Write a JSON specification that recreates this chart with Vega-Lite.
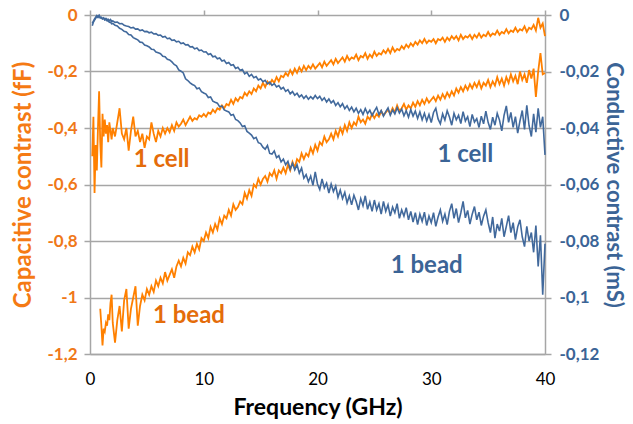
{
"$schema":"https://vega.github.io/schema/vega-lite/v6.json",
"width":455,"height":339,
"autosize":{"type":"none"},
"padding":{"left":90,"top":15,"right":88,"bottom":70},
"background":"white",
"config":{"view":{"stroke":null},"font":"Lato"},
"data":{"values":[
{"f":0.2,"c":-0.50,"b":null,"g":-0.0038,"h":-0.0030},
{"f":0.3,"c":-0.36,"b":null,"g":-0.0025,"h":-0.0022},
{"f":0.4,"c":-0.63,"b":null,"g":-0.0018,"h":-0.0014},
{"f":0.5,"c":-0.46,"b":null,"g":-0.0012,"h":-0.0008},
{"f":0.6,"c":-0.55,"b":null,"g":-0.0005,"h":-0.0002},
{"f":0.7,"c":-0.40,"b":null,"g":-0.0009,"h":-0.0006},
{"f":0.8,"c":-0.27,"b":null,"g":-0.0003,"h":-0.0001},
{"f":0.9,"c":-0.45,"b":-1.04,"g":-0.0010,"h":-0.0009},
{"f":1.0,"c":-0.54,"b":-1.10,"g":-0.0008,"h":-0.0010},
{"f":1.1,"c":-0.35,"b":-1.17,"g":-0.0013,"h":-0.0014},
{"f":1.2,"c":-0.43,"b":-1.11,"g":-0.0010,"h":-0.0012},
{"f":1.3,"c":-0.37,"b":-1.12,"g":-0.0016,"h":-0.0018},
{"f":1.4,"c":-0.42,"b":-1.09,"g":-0.0012,"h":-0.0016},
{"f":1.5,"c":-0.39,"b":-1.10,"g":-0.0017,"h":-0.0021},
{"f":1.6,"c":-0.45,"b":-1.06,"g":-0.0015,"h":-0.0020},
{"f":1.7,"c":-0.38,"b":-1.08,"g":-0.0020,"h":-0.0026},
{"f":1.8,"c":-0.41,"b":-1.02,"g":-0.0016,"h":-0.0025},
{"f":1.9,"c":-0.44,"b":-0.99,"g":-0.0022,"h":-0.0031},
{"f":2.0,"c":-0.40,"b":-1.09,"g":-0.0021,"h":-0.0030},
{"f":2.2,"c":-0.43,"b":-1.16,"g":-0.0026,"h":-0.0036},
{"f":2.4,"c":-0.38,"b":-1.08,"g":-0.0025,"h":-0.0039},
{"f":2.6,"c":-0.33,"b":-1.03,"g":-0.0031,"h":-0.0047},
{"f":2.8,"c":-0.42,"b":-1.12,"g":-0.0030,"h":-0.0051},
{"f":3.0,"c":-0.44,"b":-1.01,"g":-0.0036,"h":-0.0058},
{"f":3.2,"c":-0.40,"b":-0.97,"g":-0.0039,"h":-0.0060},
{"f":3.4,"c":-0.48,"b":-1.11,"g":-0.0041,"h":-0.0069},
{"f":3.6,"c":-0.41,"b":-1.04,"g":-0.0046,"h":-0.0071},
{"f":3.8,"c":-0.36,"b":-1.00,"g":-0.0044,"h":-0.0080},
{"f":4.0,"c":-0.43,"b":-0.96,"g":-0.0050,"h":-0.0084},
{"f":4.2,"c":-0.41,"b":-1.10,"g":-0.0049,"h":-0.0088},
{"f":4.4,"c":-0.45,"b":-1.03,"g":-0.0055,"h":-0.0096},
{"f":4.6,"c":-0.42,"b":-0.99,"g":-0.0053,"h":-0.0097},
{"f":4.8,"c":-0.47,"b":-1.01,"g":-0.0059,"h":-0.0106},
{"f":5.0,"c":-0.43,"b":-0.97,"g":-0.0058,"h":-0.0109},
{"f":5.2,"c":-0.44,"b":-0.99,"g":-0.0063,"h":-0.0113},
{"f":5.4,"c":-0.38,"b":-0.96,"g":-0.0061,"h":-0.0121},
{"f":5.6,"c":-0.42,"b":-0.98,"g":-0.0067,"h":-0.0122},
{"f":5.8,"c":-0.45,"b":-0.94,"g":-0.0066,"h":-0.0131},
{"f":6.0,"c":-0.41,"b":-0.96,"g":-0.0072,"h":-0.0134},
{"f":6.2,"c":-0.43,"b":-0.93,"g":-0.0071,"h":-0.0137},
{"f":6.4,"c":-0.40,"b":-0.95,"g":-0.0078,"h":-0.0146},
{"f":6.6,"c":-0.42,"b":-0.91,"g":-0.0076,"h":-0.0148},
{"f":6.8,"c":-0.40,"b":-0.94,"g":-0.0084,"h":-0.0157},
{"f":7.0,"c":-0.415,"b":-0.92,"g":-0.0082,"h":-0.0159},
{"f":7.2,"c":-0.39,"b":-0.90,"g":-0.0090,"h":-0.0166},
{"f":7.4,"c":-0.41,"b":-0.93,"g":-0.0088,"h":-0.0175},
{"f":7.6,"c":-0.38,"b":-0.89,"g":-0.0095,"h":-0.0180},
{"f":7.8,"c":-0.395,"b":-0.87,"g":-0.0093,"h":-0.0194},
{"f":8.0,"c":-0.385,"b":-0.89,"g":-0.0101,"h":-0.0199},
{"f":8.2,"c":-0.37,"b":-0.86,"g":-0.0099,"h":-0.0205},
{"f":8.4,"c":-0.39,"b":-0.88,"g":-0.0106,"h":-0.0226},
{"f":8.6,"c":-0.375,"b":-0.84,"g":-0.0105,"h":-0.0232},
{"f":8.8,"c":-0.36,"b":-0.85,"g":-0.0113,"h":-0.0240},
{"f":9.0,"c":-0.375,"b":-0.82,"g":-0.0112,"h":-0.0246},
{"f":9.2,"c":-0.365,"b":-0.84,"g":-0.0120,"h":-0.0250},
{"f":9.4,"c":-0.37,"b":-0.81,"g":-0.0117,"h":-0.0261},
{"f":9.6,"c":-0.355,"b":-0.83,"g":-0.0126,"h":-0.0258},
{"f":9.8,"c":-0.36,"b":-0.79,"g":-0.0124,"h":-0.0271},
{"f":10.0,"c":-0.35,"b":-0.80,"g":-0.0131,"h":-0.0276},
{"f":10.2,"c":-0.36,"b":-0.77,"g":-0.0130,"h":-0.0280},
{"f":10.4,"c":-0.345,"b":-0.79,"g":-0.0140,"h":-0.0292},
{"f":10.6,"c":-0.35,"b":-0.75,"g":-0.0137,"h":-0.0290},
{"f":10.8,"c":-0.335,"b":-0.77,"g":-0.0148,"h":-0.0305},
{"f":11.0,"c":-0.345,"b":-0.74,"g":-0.0146,"h":-0.0309},
{"f":11.2,"c":-0.33,"b":-0.76,"g":-0.0155,"h":-0.0312},
{"f":11.4,"c":-0.335,"b":-0.72,"g":-0.0152,"h":-0.0325},
{"f":11.6,"c":-0.32,"b":-0.74,"g":-0.0163,"h":-0.0322},
{"f":11.8,"c":-0.33,"b":-0.71,"g":-0.0160,"h":-0.0336},
{"f":12.0,"c":-0.315,"b":-0.72,"g":-0.0172,"h":-0.0340},
{"f":12.2,"c":-0.32,"b":-0.69,"g":-0.0168,"h":-0.0343},
{"f":12.4,"c":-0.30,"b":-0.71,"g":-0.0178,"h":-0.0355},
{"f":12.6,"c":-0.315,"b":-0.67,"g":-0.0176,"h":-0.0352},
{"f":12.8,"c":-0.295,"b":-0.69,"g":-0.0189,"h":-0.0370},
{"f":13.0,"c":-0.305,"b":-0.68,"g":-0.0185,"h":-0.0374},
{"f":13.2,"c":-0.29,"b":-0.66,"g":-0.0196,"h":-0.0382},
{"f":13.4,"c":-0.295,"b":-0.67,"g":-0.0193,"h":-0.0395},
{"f":13.6,"c":-0.275,"b":-0.63,"g":-0.0208,"h":-0.0392},
{"f":13.8,"c":-0.285,"b":-0.65,"g":-0.0203,"h":-0.0412},
{"f":14.0,"c":-0.27,"b":-0.62,"g":-0.0217,"h":-0.0418},
{"f":14.2,"c":-0.28,"b":-0.64,"g":-0.0210,"h":-0.0425},
{"f":14.4,"c":-0.26,"b":-0.60,"g":-0.0222,"h":-0.0438},
{"f":14.6,"c":-0.27,"b":-0.61,"g":-0.0218,"h":-0.0433},
{"f":14.8,"c":-0.25,"b":-0.58,"g":-0.0230,"h":-0.0452},
{"f":15.0,"c":-0.26,"b":-0.60,"g":-0.0226,"h":-0.0455},
{"f":15.2,"c":-0.24,"b":-0.58,"g":-0.0236,"h":-0.0468},
{"f":15.4,"c":-0.255,"b":-0.57,"g":-0.0231,"h":-0.0475},
{"f":15.6,"c":-0.235,"b":-0.59,"g":-0.0244,"h":-0.0462},
{"f":15.8,"c":-0.245,"b":-0.56,"g":-0.0238,"h":-0.0490},
{"f":16.0,"c":-0.23,"b":-0.57,"g":-0.0249,"h":-0.0492},
{"f":16.2,"c":-0.24,"b":-0.55,"g":-0.0243,"h":-0.0481},
{"f":16.4,"c":-0.22,"b":-0.58,"g":-0.0255,"h":-0.0505},
{"f":16.6,"c":-0.235,"b":-0.55,"g":-0.0250,"h":-0.0498},
{"f":16.8,"c":-0.215,"b":-0.56,"g":-0.0262,"h":-0.0520},
{"f":17.0,"c":-0.22,"b":-0.54,"g":-0.0256,"h":-0.0510},
{"f":17.2,"c":-0.205,"b":-0.56,"g":-0.0270,"h":-0.0530},
{"f":17.4,"c":-0.215,"b":-0.53,"g":-0.0264,"h":-0.0518},
{"f":17.6,"c":-0.195,"b":-0.55,"g":-0.0279,"h":-0.0545},
{"f":17.8,"c":-0.21,"b":-0.52,"g":-0.0271,"h":-0.0525},
{"f":18.0,"c":-0.19,"b":-0.54,"g":-0.0284,"h":-0.0548},
{"f":18.2,"c":-0.205,"b":-0.51,"g":-0.0277,"h":-0.0530},
{"f":18.4,"c":-0.185,"b":-0.52,"g":-0.0290,"h":-0.0560},
{"f":18.6,"c":-0.20,"b":-0.49,"g":-0.0283,"h":-0.0542},
{"f":18.8,"c":-0.18,"b":-0.51,"g":-0.0295,"h":-0.0578},
{"f":19.0,"c":-0.195,"b":-0.49,"g":-0.0286,"h":-0.0565},
{"f":19.2,"c":-0.18,"b":-0.50,"g":-0.0298,"h":-0.0590},
{"f":19.4,"c":-0.19,"b":-0.47,"g":-0.0289,"h":-0.0570},
{"f":19.6,"c":-0.175,"b":-0.49,"g":-0.0297,"h":-0.0603},
{"f":19.8,"c":-0.19,"b":-0.46,"g":-0.0285,"h":-0.0555},
{"f":20.0,"c":-0.18,"b":-0.48,"g":-0.0296,"h":-0.0598},
{"f":20.2,"c":-0.17,"b":-0.45,"g":-0.0288,"h":-0.0618},
{"f":20.4,"c":-0.185,"b":-0.46,"g":-0.0302,"h":-0.0580},
{"f":20.6,"c":-0.165,"b":-0.43,"g":-0.0293,"h":-0.0612},
{"f":20.8,"c":-0.18,"b":-0.45,"g":-0.0308,"h":-0.0595},
{"f":21.0,"c":-0.17,"b":-0.44,"g":-0.0297,"h":-0.0630},
{"f":21.2,"c":-0.16,"b":-0.42,"g":-0.0311,"h":-0.0598},
{"f":21.4,"c":-0.175,"b":-0.44,"g":-0.0303,"h":-0.0625},
{"f":21.6,"c":-0.155,"b":-0.41,"g":-0.0320,"h":-0.0605},
{"f":21.8,"c":-0.17,"b":-0.43,"g":-0.0310,"h":-0.0645},
{"f":22.0,"c":-0.16,"b":-0.40,"g":-0.0325,"h":-0.0620},
{"f":22.2,"c":-0.15,"b":-0.42,"g":-0.0314,"h":-0.0650},
{"f":22.4,"c":-0.165,"b":-0.39,"g":-0.0332,"h":-0.0628},
{"f":22.6,"c":-0.145,"b":-0.41,"g":-0.0321,"h":-0.0665},
{"f":22.8,"c":-0.16,"b":-0.38,"g":-0.0338,"h":-0.0640},
{"f":23.0,"c":-0.15,"b":-0.40,"g":-0.0326,"h":-0.0672},
{"f":23.2,"c":-0.155,"b":-0.38,"g":-0.0343,"h":-0.0638},
{"f":23.4,"c":-0.14,"b":-0.39,"g":-0.0330,"h":-0.0660},
{"f":23.6,"c":-0.16,"b":-0.36,"g":-0.0348,"h":-0.0690},
{"f":23.8,"c":-0.145,"b":-0.38,"g":-0.0335,"h":-0.0650},
{"f":24.0,"c":-0.15,"b":-0.37,"g":-0.0352,"h":-0.0675},
{"f":24.2,"c":-0.135,"b":-0.385,"g":-0.0331,"h":-0.0640},
{"f":24.4,"c":-0.155,"b":-0.36,"g":-0.0349,"h":-0.0688},
{"f":24.6,"c":-0.14,"b":-0.37,"g":-0.0337,"h":-0.0662},
{"f":24.8,"c":-0.15,"b":-0.35,"g":-0.0356,"h":-0.0695},
{"f":25.0,"c":-0.13,"b":-0.365,"g":-0.0340,"h":-0.0655},
{"f":25.2,"c":-0.145,"b":-0.35,"g":-0.0327,"h":-0.0690},
{"f":25.4,"c":-0.135,"b":-0.36,"g":-0.0352,"h":-0.0668},
{"f":25.6,"c":-0.14,"b":-0.34,"g":-0.0338,"h":-0.0705},
{"f":25.8,"c":-0.125,"b":-0.355,"g":-0.0358,"h":-0.0660},
{"f":26.0,"c":-0.135,"b":-0.345,"g":-0.0342,"h":-0.0695},
{"f":26.2,"c":-0.12,"b":-0.335,"g":-0.0329,"h":-0.0672},
{"f":26.4,"c":-0.135,"b":-0.35,"g":-0.0355,"h":-0.0712},
{"f":26.6,"c":-0.115,"b":-0.33,"g":-0.0336,"h":-0.0680},
{"f":26.8,"c":-0.13,"b":-0.345,"g":-0.0350,"h":-0.0700},
{"f":27.0,"c":-0.12,"b":-0.32,"g":-0.0328,"h":-0.0668},
{"f":27.2,"c":-0.125,"b":-0.34,"g":-0.0347,"h":-0.0720},
{"f":27.4,"c":-0.11,"b":-0.33,"g":-0.0333,"h":-0.0690},
{"f":27.6,"c":-0.12,"b":-0.315,"g":-0.0357,"h":-0.0712},
{"f":27.8,"c":-0.105,"b":-0.335,"g":-0.0339,"h":-0.0682},
{"f":28.0,"c":-0.115,"b":-0.32,"g":-0.0362,"h":-0.0725},
{"f":28.2,"c":-0.10,"b":-0.33,"g":-0.0335,"h":-0.0695},
{"f":28.4,"c":-0.11,"b":-0.31,"g":-0.0358,"h":-0.0733},
{"f":28.6,"c":-0.095,"b":-0.325,"g":-0.0340,"h":-0.0700},
{"f":28.8,"c":-0.105,"b":-0.305,"g":-0.0366,"h":-0.0742},
{"f":29.0,"c":-0.09,"b":-0.32,"g":-0.0343,"h":-0.0705},
{"f":29.2,"c":-0.10,"b":-0.30,"g":-0.0371,"h":-0.0730},
{"f":29.4,"c":-0.085,"b":-0.315,"g":-0.0348,"h":-0.0698},
{"f":29.6,"c":-0.10,"b":-0.295,"g":-0.0375,"h":-0.0745},
{"f":29.8,"c":-0.09,"b":-0.31,"g":-0.0352,"h":-0.0712},
{"f":30.0,"c":-0.095,"b":-0.30,"g":-0.0381,"h":-0.0735},
{"f":30.2,"c":-0.085,"b":-0.29,"g":-0.0345,"h":-0.0700},
{"f":30.4,"c":-0.10,"b":-0.305,"g":-0.0330,"h":-0.0748},
{"f":30.6,"c":-0.085,"b":-0.285,"g":-0.0368,"h":-0.0715},
{"f":30.8,"c":-0.09,"b":-0.30,"g":-0.0385,"h":-0.0690},
{"f":31.0,"c":-0.08,"b":-0.28,"g":-0.0350,"h":-0.0730},
{"f":31.2,"c":-0.095,"b":-0.295,"g":-0.0372,"h":-0.0705},
{"f":31.4,"c":-0.08,"b":-0.275,"g":-0.0339,"h":-0.0742},
{"f":31.6,"c":-0.09,"b":-0.29,"g":-0.0361,"h":-0.0695},
{"f":31.8,"c":-0.075,"b":-0.27,"g":-0.0390,"h":-0.0668},
{"f":32.0,"c":-0.085,"b":-0.285,"g":-0.0348,"h":-0.0720},
{"f":32.2,"c":-0.075,"b":-0.26,"g":-0.0371,"h":-0.0685},
{"f":32.4,"c":-0.09,"b":-0.275,"g":-0.0355,"h":-0.0735},
{"f":32.6,"c":-0.07,"b":-0.255,"g":-0.0384,"h":-0.0700},
{"f":32.8,"c":-0.085,"b":-0.27,"g":-0.0342,"h":-0.0660},
{"f":33.0,"c":-0.075,"b":-0.25,"g":-0.0375,"h":-0.0718},
{"f":33.2,"c":-0.08,"b":-0.265,"g":-0.0360,"h":-0.0692},
{"f":33.4,"c":-0.07,"b":-0.245,"g":-0.0395,"h":-0.0740},
{"f":33.6,"c":-0.085,"b":-0.26,"g":-0.0352,"h":-0.0705},
{"f":33.8,"c":-0.07,"b":-0.24,"g":-0.0379,"h":-0.0678},
{"f":34.0,"c":-0.08,"b":-0.255,"g":-0.0367,"h":-0.0725},
{"f":34.2,"c":-0.065,"b":-0.235,"g":-0.0398,"h":-0.0698},
{"f":34.4,"c":-0.08,"b":-0.26,"g":-0.0358,"h":-0.0745},
{"f":34.6,"c":-0.07,"b":-0.24,"g":-0.0385,"h":-0.0712},
{"f":34.8,"c":-0.075,"b":-0.25,"g":-0.0340,"h":-0.0690},
{"f":35.0,"c":-0.06,"b":-0.23,"g":-0.0380,"h":-0.0735},
{"f":35.2,"c":-0.075,"b":-0.255,"g":-0.0405,"h":-0.0770},
{"f":35.4,"c":-0.065,"b":-0.235,"g":-0.0362,"h":-0.0715},
{"f":35.6,"c":-0.07,"b":-0.25,"g":-0.0390,"h":-0.0790},
{"f":35.8,"c":-0.055,"b":-0.22,"g":-0.0348,"h":-0.0740},
{"f":36.0,"c":-0.07,"b":-0.245,"g":-0.0372,"h":-0.0765},
{"f":36.2,"c":-0.06,"b":-0.225,"g":-0.0410,"h":-0.0720},
{"f":36.4,"c":-0.065,"b":-0.25,"g":-0.0355,"h":-0.0785},
{"f":36.6,"c":-0.05,"b":-0.22,"g":-0.0322,"h":-0.0748},
{"f":36.8,"c":-0.065,"b":-0.24,"g":-0.0380,"h":-0.0710},
{"f":37.0,"c":-0.055,"b":-0.21,"g":-0.0345,"h":-0.0770},
{"f":37.2,"c":-0.06,"b":-0.235,"g":-0.0398,"h":-0.0735},
{"f":37.4,"c":-0.045,"b":-0.215,"g":-0.0360,"h":-0.0795},
{"f":37.6,"c":-0.06,"b":-0.245,"g":-0.0418,"h":-0.0750},
{"f":37.8,"c":-0.05,"b":-0.20,"g":-0.0375,"h":-0.0725},
{"f":38.0,"c":-0.055,"b":-0.23,"g":-0.0338,"h":-0.0785},
{"f":38.2,"c":-0.04,"b":-0.21,"g":-0.0405,"h":-0.0820},
{"f":38.4,"c":-0.06,"b":-0.24,"g":-0.0320,"h":-0.0748},
{"f":38.6,"c":-0.045,"b":-0.195,"g":-0.0392,"h":-0.0800},
{"f":38.8,"c":-0.05,"b":-0.225,"g":-0.0430,"h":-0.0770},
{"f":39.0,"c":-0.035,"b":-0.19,"g":-0.0350,"h":-0.0840},
{"f":39.2,"c":-0.055,"b":-0.29,"g":-0.0415,"h":-0.0745},
{"f":39.4,"c":-0.01,"b":-0.20,"g":-0.0330,"h":-0.0890},
{"f":39.6,"c":-0.045,"b":-0.135,"g":-0.0398,"h":-0.0780},
{"f":39.8,"c":-0.03,"b":-0.21,"g":-0.0360,"h":-0.0990},
{"f":40.0,"c":-0.075,"b":-0.205,"g":-0.0495,"h":-0.0810}
]},
"layer":[
{"layer":[
{"transform":[{"fold":["c","b"],"as":["s","v"]}],
"mark":{"type":"line","color":"#FF8000","strokeWidth":1.8},
"encoding":{
"x":{"field":"f","type":"quantitative","scale":{"domain":[0,40],"nice":false},
"axis":{"values":[0,10,20,30,40],"title":"Frequency (GHz)","grid":false,"ticks":false,"domain":true,"domainColor":"#A6A6A6","domainWidth":1.5,"labelFlush":false,
"labelColor":"#000000","labelFont":"Lato","labelFontSize":17,"labelPadding":17,
"titleColor":"#000000","titleFont":"Lato","titleFontSize":23,"titleFontWeight":"bold","titlePadding":9}},
"y":{"field":"v","type":"quantitative","scale":{"domain":[-1.2,0],"nice":false},
"axis":{"values":[0,-0.2,-0.4,-0.6,-0.8,-1,-1.2],"labelExpr":"replace(toString(datum.value),'.',',')","labelFlush":false,
"grid":true,"gridColor":"#A6A6A6","gridWidth":1.5,"domainColor":"#A6A6A6","domainWidth":1.5,
"tickColor":"#A6A6A6","tickWidth":1.5,"tickSize":6,
"labelColor":"#F07818","labelFont":"Lato","labelFontSize":17,"labelFontWeight":"bold","labelPadding":7,
"title":"Capacitive contrast (fF)","titleColor":"#F57A14","titleFont":"Lato","titleFontSize":24,"titleFontWeight":"bold","titlePadding":11}},
"detail":{"field":"s"}
}},
{"data":{"values":[{"t":"1 cell","f":6.3,"v":-0.513},{"t":"1 bead","f":8.7,"v":-1.065}]},
"mark":{"type":"text","color":"#E46C0A","font":"Lato","fontWeight":"bold","fontSize":24},
"encoding":{"x":{"field":"f","type":"quantitative"},"y":{"field":"v","type":"quantitative"},"text":{"field":"t"}}}
]},
{"layer":[
{"transform":[{"fold":["g","h"],"as":["s","w"]}],
"mark":{"type":"line","color":"#41699C","strokeWidth":1.6},
"encoding":{
"x":{"field":"f","type":"quantitative","scale":{"domain":[0,40],"nice":false},
"axis":{"orient":"top","values":[0,10,20,30,40],"labels":false,"title":null,"grid":false,"domain":false,"ticks":true,"tickSize":5,"tickColor":"#A6A6A6","tickWidth":1.5}},
"y":{"field":"w","type":"quantitative","scale":{"domain":[-0.12,0],"nice":false},
"axis":{"orient":"right","values":[0,-0.02,-0.04,-0.06,-0.08,-0.1,-0.12],"labelExpr":"replace(toString(datum.value),'.',',')","labelFlush":false,
"grid":false,"domainColor":"#A6A6A6","domainWidth":1.5,"tickColor":"#A6A6A6","tickWidth":1.5,"tickSize":6,
"labelColor":"#3B6496","labelFont":"Lato","labelFontSize":17,"labelFontWeight":"bold","labelPadding":8,
"title":"Conductive contrast (mS)","titleColor":"#3B6496","titleFont":"Lato","titleFontSize":22,"titleFontWeight":"bold","titlePadding":3}},
"detail":{"field":"s"}
}},
{"data":{"values":[{"t":"1 cell","f":33.0,"w":-0.0496},{"t":"1 bead","f":29.6,"w":-0.0888}]},
"mark":{"type":"text","color":"#3B6496","font":"Lato","fontWeight":"bold","fontSize":24},
"encoding":{"x":{"field":"f","type":"quantitative"},"y":{"field":"w","type":"quantitative"},"text":{"field":"t"}}}
]}
],
"resolve":{"scale":{"x":"independent","y":"independent"}}
}
